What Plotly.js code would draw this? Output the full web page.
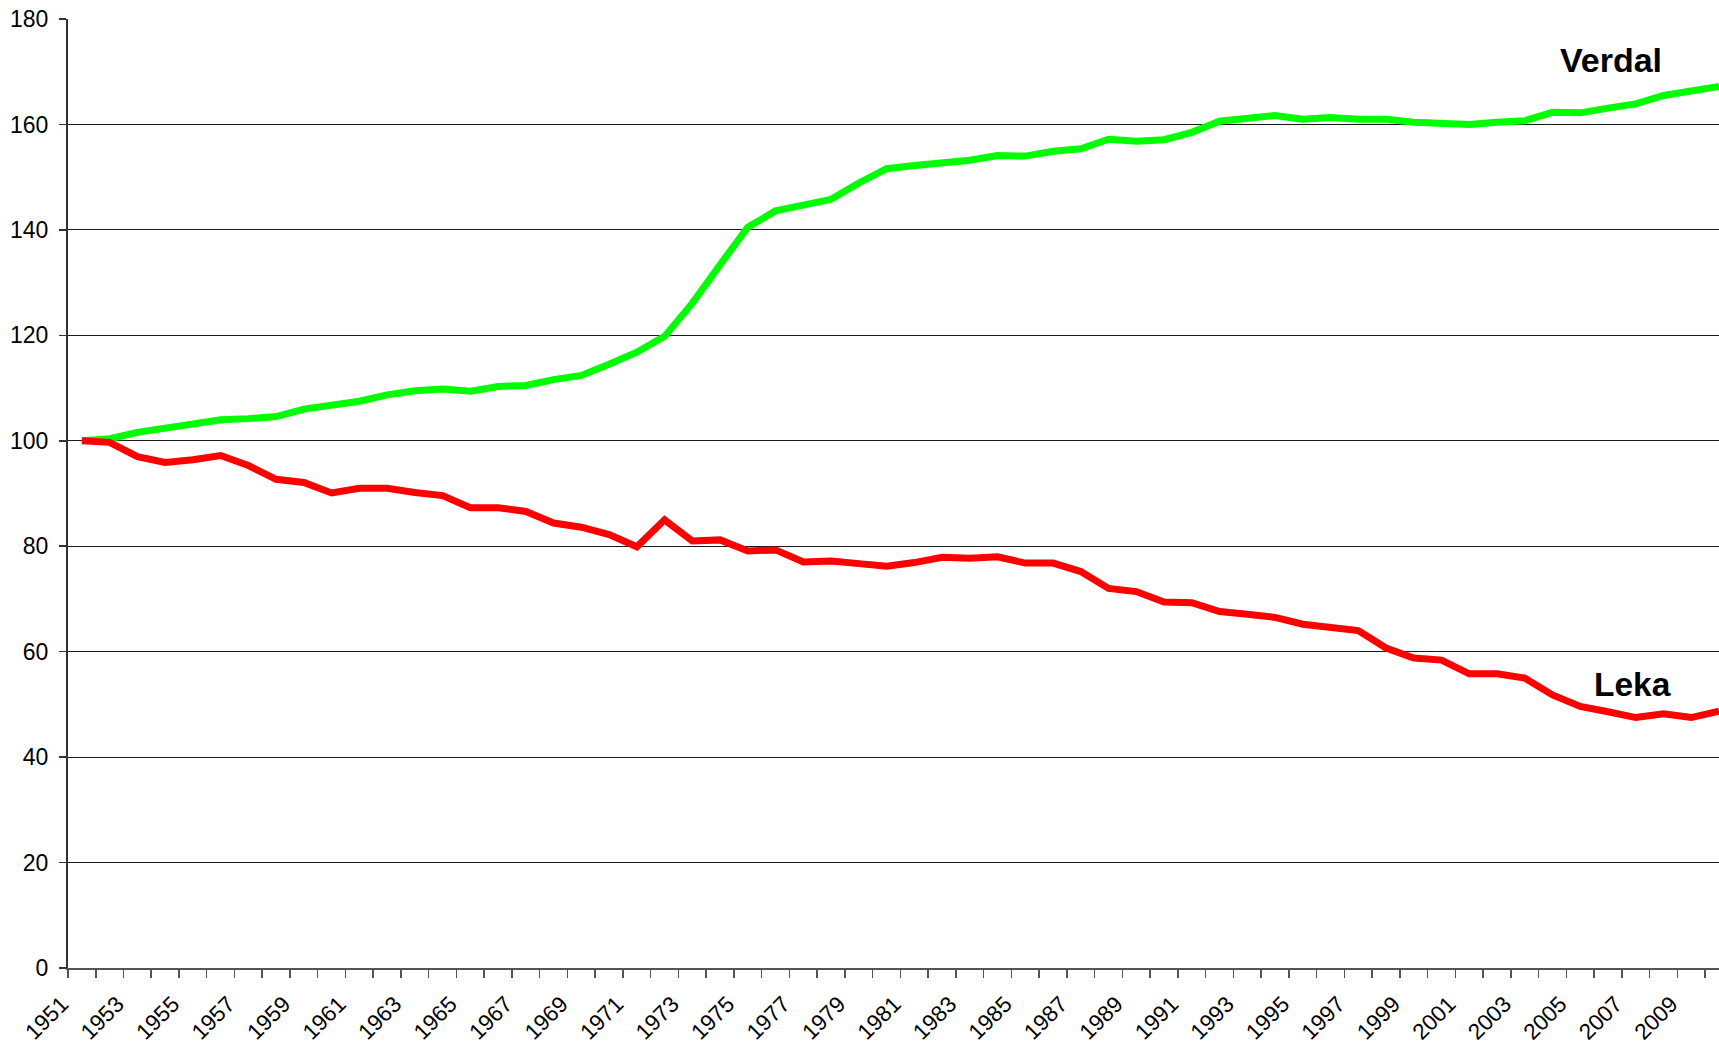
<!DOCTYPE html>
<html>
<head>
<meta charset="utf-8">
<script src="https://cdn.plot.ly/plotly-3.0.1.min.js"></script>
<style>
  html, body { margin: 0; padding: 0; background: #ffffff; }
  #chart { width: 1719px; height: 1044px; }
</style>
</head>
<body>
<div id="chart"></div>
<script>
const years = [1951, 1952, 1953, 1954, 1955, 1956, 1957, 1958, 1959, 1960,
               1961, 1962, 1963, 1964, 1965, 1966, 1967, 1968, 1969, 1970,
               1971, 1972, 1973, 1974, 1975, 1976, 1977, 1978, 1979, 1980,
               1981, 1982, 1983, 1984, 1985, 1986, 1987, 1988, 1989, 1990,
               1991, 1992, 1993, 1994, 1995, 1996, 1997, 1998, 1999, 2000,
               2001, 2002, 2003, 2004, 2005, 2006, 2007, 2008, 2009, 2010];

const verdal = [100.0, 100.4, 101.6, 102.3, 103.2, 104.0, 104.2, 104.6, 106.0, 106.8,
                107.5, 108.7, 109.5, 109.8, 109.4, 110.3, 110.5, 111.6, 112.4, 114.5,
                116.8, 119.8, 126.1, 133.4, 140.5, 143.6, 144.7, 145.8, 148.9, 151.6,
                152.2, 152.7, 153.2, 154.1, 154.0, 154.9, 155.4, 157.2, 156.8, 157.1,
                158.5, 160.6, 161.0, 161.7, 161.0, 161.3, 161.0, 161.0, 160.4, 160.2,
                160.0, 160.4, 160.7, 162.3, 162.2, 163.1, 163.9, 165.5, 166.3, 167.2];

const leka = [100.0, 99.7, 97.0, 95.9, 96.4, 97.2, 95.3, 92.7, 92.1, 90.1,
              91.0, 91.0, 90.2, 89.6, 87.3, 87.3, 86.6, 84.4, 83.6, 82.2,
              79.9, 85.0, 81.0, 81.2, 79.1, 79.3, 77.0, 77.2, 76.7, 76.2,
              76.9, 77.9, 77.7, 78.0, 76.8, 76.8, 75.2, 72.0, 71.4, 69.4,
              69.3, 67.6, 67.1, 66.5, 65.2, 64.6, 64.0, 60.7, 58.8, 58.4,
              55.8, 55.8, 55.0, 51.8, 49.6, 48.6, 47.5, 48.2, 47.5, 48.7];

const labelYears = [1951, 1953, 1955, 1957, 1959, 1961, 1963, 1965, 1967, 1969,
                    1971, 1973, 1975, 1977, 1979, 1981, 1983, 1985, 1987, 1989,
                    1991, 1993, 1995, 1997, 1999, 2001, 2003, 2005, 2007, 2009];
const labelText = labelYears.map(String);

const seriesNames = ['Verdal', 'Leka'];

const FONT = '"Liberation Sans", Arial, Helvetica, sans-serif';

const traces = [
  {
    x: years, y: verdal, name: seriesNames[0], type: 'scatter', mode: 'lines',
    line: { color: '#00ff00', width: 7 }, hoverinfo: 'x+y'
  },
  {
    x: years, y: leka, name: seriesNames[1], type: 'scatter', mode: 'lines',
    line: { color: '#ff0000', width: 7 }, hoverinfo: 'x+y'
  }
];

const layout = {
  width: 1719, height: 1044,
  margin: { l: 68, r: 0, t: 19, b: 76, pad: 0 },
  paper_bgcolor: '#ffffff', plot_bgcolor: '#ffffff',
  showlegend: false,
  font: { family: FONT, color: '#000000' },
  xaxis: {
    type: 'linear',
    range: [1950.5, 2010.0],
    tickmode: 'array',
    tickvals: labelYears,
    ticktext: labelText,
    tickangle: -45,
    ticks: '',
    ticklabelshift: -20,
    ticklabelstandoff: 12,
    ticklabeloverflow: 'allow',
    tickfont: { family: FONT, size: 22.5, color: '#000000' },
    showgrid: false,
    zeroline: false,
    showline: true, linecolor: '#555555', linewidth: 2,
    minor: { tick0: 1950.5, dtick: 1, ticks: 'outside', ticklen: 8, tickwidth: 1.5, tickcolor: '#555555', showgrid: false },
    fixedrange: true
  },
  yaxis: {
    range: [0, 180],
    tick0: 0, dtick: 20,
    ticks: 'outside', ticklen: 7, tickwidth: 1.5, tickcolor: '#333333',
    tickfont: { family: FONT, size: 23, color: '#000000' },
    ticklabelstandoff: 6,
    showgrid: true, gridcolor: '#1a1a1a', gridwidth: 1.2,
    zeroline: false,
    showline: true, linecolor: '#333333', linewidth: 2,
    fixedrange: true
  },
  annotations: [
    { x: 2006.1, y: 172.3, xref: 'x', yref: 'y', text: '<b>' + seriesNames[0] + '</b>', showarrow: false,
      font: { family: FONT, size: 34, color: '#000000' }, xanchor: 'center', yanchor: 'middle' },
    { x: 2006.9, y: 53.7, xref: 'x', yref: 'y', text: '<b>' + seriesNames[1] + '</b>', showarrow: false,
      font: { family: FONT, size: 33.5, color: '#000000' }, xanchor: 'center', yanchor: 'middle' }
  ]
};

Plotly.newPlot('chart', traces, layout, { displayModeBar: false, staticPlot: true });
</script>
</body>
</html>
